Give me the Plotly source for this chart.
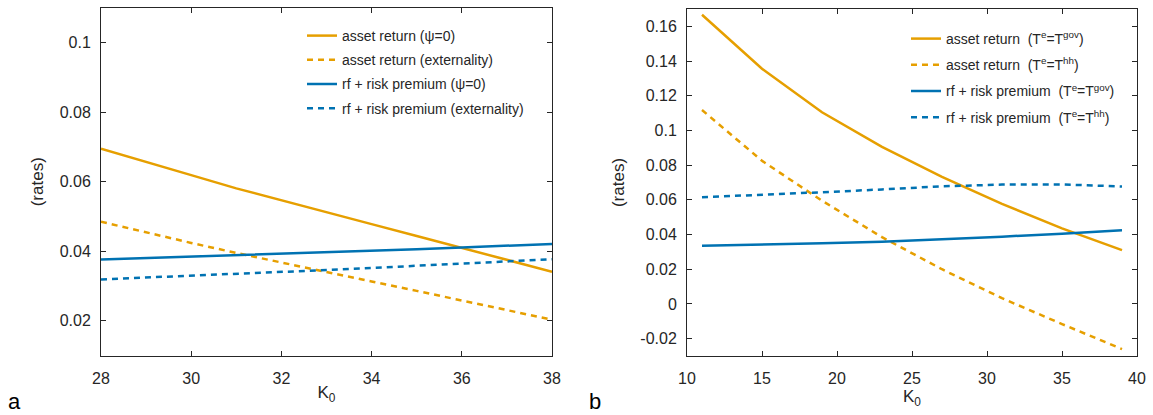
import plotly.graph_objects as go

# ---------------- data ----------------
# panel a
k_a = [28, 29, 30, 31, 32, 33, 34, 35, 36, 37, 38]
asset_psi0 = [0.0695, 0.0656, 0.0619, 0.0581, 0.0546, 0.0512, 0.0478, 0.0444, 0.0410, 0.0376, 0.0341]
asset_ext = [0.0485, 0.0454, 0.0424, 0.0395, 0.0367, 0.0340, 0.0313, 0.0286, 0.0258, 0.0230, 0.0203]
rfrp_psi0 = [0.0376, 0.0380, 0.0384, 0.0389, 0.0393, 0.0397, 0.0402, 0.0406, 0.0411, 0.0416, 0.0421]
rfrp_ext = [0.0319, 0.0324, 0.0330, 0.0335, 0.0340, 0.0346, 0.0352, 0.0358, 0.0364, 0.0370, 0.0377]

# panel b
k_b = [11, 15, 19, 23, 27, 31, 35, 39]
asset_gov = [0.1667, 0.1356, 0.1105, 0.0905, 0.0733, 0.0577, 0.0436, 0.0310]
asset_hh = [0.1118, 0.0825, 0.0595, 0.0385, 0.0200, 0.0033, -0.0116, -0.0260]
rfrp_gov = [0.0336, 0.0342, 0.0350, 0.0359, 0.0372, 0.0388, 0.0405, 0.0425]
rfrp_hh = [0.0615, 0.0628, 0.0644, 0.0660, 0.0678, 0.0688, 0.0689, 0.0677]

names_a = ["asset return (\u03c8=0)", "asset return (externality)",
           "rf + risk premium (\u03c8=0)", "rf + risk premium (externality)"]
names_b = ["asset return  (T<sup>e</sup>=T<sup>gov</sup>)", "asset return  (T<sup>e</sup>=T<sup>hh</sup>)",
           "rf + risk premium  (T<sup>e</sup>=T<sup>gov</sup>)", "rf + risk premium  (T<sup>e</sup>=T<sup>hh</sup>)"]

xticks_a = [28, 30, 32, 34, 36, 38]
yticks_a = [0.02, 0.04, 0.06, 0.08, 0.1]
yticklabels_a = ["0.02", "0.04", "0.06", "0.08", "0.1"]
xticks_b = [10, 15, 20, 25, 30, 35, 40]
yticks_b = [-0.02, 0, 0.02, 0.04, 0.06, 0.08, 0.1, 0.12, 0.14, 0.16]
yticklabels_b = ["-0.02", "0", "0.02", "0.04", "0.06", "0.08", "0.1", "0.12", "0.14", "0.16"]

ORANGE = "#E69F00"
BLUE = "#0072B2"
AX = "#262626"
FONT = "Liberation Sans, Arial, sans-serif"
DASH = "6px,5px"
LW = 2.5

fig = go.Figure()

series_a = [(asset_psi0, ORANGE, "solid"), (asset_ext, ORANGE, DASH),
            (rfrp_psi0, BLUE, "solid"), (rfrp_ext, BLUE, DASH)]
for i, ((vals, col, dash), nm) in enumerate(zip(series_a, names_a)):
    fig.add_trace(go.Scatter(x=k_a, y=vals, mode="lines", name=nm,
                             line=dict(color=col, width=LW, dash=dash),
                             legendgroup=f"a{i}",
                             xaxis="x", yaxis="y", legend="legend"))

series_b = [(asset_gov, ORANGE, "solid"), (asset_hh, ORANGE, DASH),
            (rfrp_gov, BLUE, "solid"), (rfrp_hh, BLUE, DASH)]
for i, ((vals, col, dash), nm) in enumerate(zip(series_b, names_b)):
    fig.add_trace(go.Scatter(x=k_b, y=vals, mode="lines", name=nm,
                             line=dict(color=col, width=LW, dash=dash),
                             legendgroup=f"b{i}",
                             xaxis="x2", yaxis="y2", legend="legend2"))

W, H = 1153, 415

def axis_common():
    return dict(showline=True, linecolor=AX, linewidth=1, mirror="ticks",
                ticks="inside", ticklen=5, tickcolor=AX, tickwidth=1,
                showgrid=False, zeroline=False, automargin=False,
                tickfont=dict(family=FONT, size=16, color=AX))

title_font = dict(family=FONT, size=17, color=AX)
xa = axis_common()
xa.update(domain=[101 / W, 552 / W], range=[28, 38], tickvals=xticks_a,
          anchor="y", ticklabelstandoff=8,
          title=dict(text="K<sub>0</sub>", font=title_font, standoff=0))
ya = axis_common()
ya.update(domain=[1 - 355.5 / H, 1 - 8 / H], range=[0.01, 0.11], tickvals=yticks_a,
          ticktext=yticklabels_a, anchor="x", ticklabelstandoff=6,
          title=dict(text="(rates)", font=title_font, standoff=11))
xb = axis_common()
xb.update(domain=[687 / W, 1137 / W], range=[10, 40], tickvals=xticks_b,
          anchor="y2", ticklabelstandoff=8,
          title=dict(text="K<sub>0</sub>", font=title_font, standoff=0))
yb = axis_common()
yb.update(domain=[1 - 356 / H, 1 - 9 / H], range=[-0.03, 0.17], tickvals=yticks_b,
          ticktext=yticklabels_b, anchor="x2", ticklabelstandoff=6,
          title=dict(text="(rates)", font=title_font, standoff=11))

legend_font = dict(family=FONT, size=14, color=AX)
fig.update_layout(
    width=W, height=H,
    margin=dict(l=0, r=0, t=0, b=0, autoexpand=False),
    paper_bgcolor="white", plot_bgcolor="white",
    xaxis=xa, yaxis=ya, xaxis2=xb, yaxis2=yb,
    legend=dict(x=302 / W, y=1 - 20 / H, xanchor="left", yanchor="top",
                bgcolor="rgba(0,0,0,0)", font=legend_font, tracegroupgap=3,
                itemwidth=30),
    legend2=dict(x=906 / W, y=1 - 23 / H, xanchor="left", yanchor="top",
                 bgcolor="rgba(0,0,0,0)", font=legend_font, tracegroupgap=5,
                 itemwidth=30),
    annotations=[
        dict(text="a", x=6 / W, y=1 - 401 / H, xref="paper", yref="paper",
             xanchor="left", yanchor="middle", showarrow=False,
             font=dict(family=FONT, size=22, color="black")),
        dict(text="b", x=587 / W, y=1 - 401 / H, xref="paper", yref="paper",
             xanchor="left", yanchor="middle", showarrow=False,
             font=dict(family=FONT, size=22, color="black")),
    ],
)

fig.write_html("out.html", config={"displayModeBar": False},
               post_script="document.body.style.margin='0';document.body.style.overflow='hidden';")
